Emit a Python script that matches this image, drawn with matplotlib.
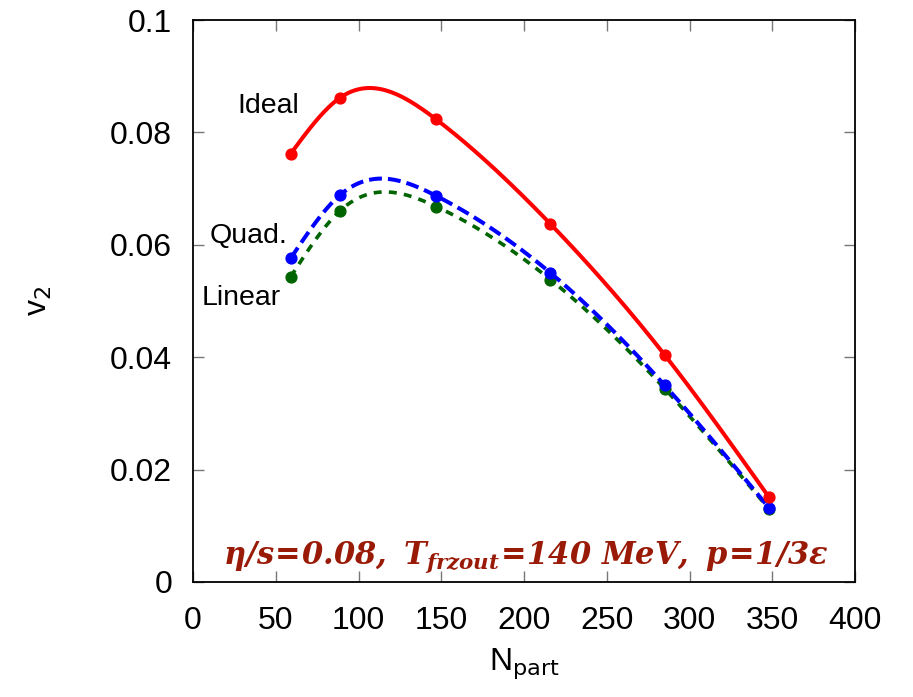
import numpy as np
import matplotlib
matplotlib.use("Agg")
import matplotlib.pyplot as plt

# data
npart = [59, 89, 147, 216, 285, 348]
v2_ideal = [0.0762, 0.0862, 0.0823, 0.0637, 0.0404, 0.0151]
v2_quad = [0.0576, 0.0689, 0.0687, 0.0550, 0.0350, 0.0132]
v2_linear = [0.0543, 0.0661, 0.0668, 0.0538, 0.0344, 0.0130]

xticks = [0, 50, 100, 150, 200, 250, 300, 350, 400]
yticks = [0, 0.02, 0.04, 0.06, 0.08, 0.1]
ytick_labels = ["0", "0.02", "0.04", "0.06", "0.08", "0.1"]


def natural_spline(x, y, n=300):
    # natural cubic spline through the points (like gnuplot smooth csplines)
    x = np.asarray(x, float)
    y = np.asarray(y, float)
    k = len(x)
    h = np.diff(x)
    A = np.zeros((k, k))
    b = np.zeros(k)
    A[0, 0] = A[-1, -1] = 1
    for i in range(1, k - 1):
        A[i, i - 1] = h[i - 1]
        A[i, i] = 2 * (h[i - 1] + h[i])
        A[i, i + 1] = h[i]
        b[i] = 6 * ((y[i + 1] - y[i]) / h[i] - (y[i] - y[i - 1]) / h[i - 1])
    M = np.linalg.solve(A, b)
    xs = np.linspace(x[0], x[-1], n)
    idx = np.clip(np.searchsorted(x, xs) - 1, 0, k - 2)
    x0, x1 = x[idx], x[idx + 1]
    hh = x1 - x0
    t0, t1 = x1 - xs, xs - x0
    ys = (M[idx] * t0**3 + M[idx + 1] * t1**3) / (6 * hh) \
        + (y[idx] / hh - M[idx] * hh / 6) * t0 \
        + (y[idx + 1] / hh - M[idx + 1] * hh / 6) * t1
    return xs, ys


plt.rcParams['font.family'] = ['Liberation Sans', 'DejaVu Sans']
plt.rcParams['mathtext.fontset'] = 'custom'
plt.rcParams['mathtext.it'] = 'DejaVu Serif:italic:bold'
plt.rcParams['mathtext.rm'] = 'DejaVu Serif:italic:bold'
plt.rcParams['mathtext.bf'] = 'DejaVu Serif:italic:bold'

fig = plt.figure(figsize=(9.13, 6.97), dpi=100)
ax = fig.add_axes([0.2114, 0.165, 0.7251, 0.8063])

red = "#ff0000"
blue = "#0000ff"
green = "#006400"

xs, ys = natural_spline(npart, v2_linear)
ax.plot(xs, ys, color=green, lw=2.6, dashes=(2.2, 2.0))
ax.plot(npart, v2_linear, "o", color=green, ms=7.8)

xs, ys = natural_spline(npart, v2_quad)
ax.plot(xs, ys, color=blue, lw=2.9, dashes=(3.2, 1.5))
ax.plot(npart, v2_quad, "o", color=blue, ms=7.8)

xs, ys = natural_spline(npart, v2_ideal)
ax.plot(xs, ys, color=red, lw=2.9)
ax.plot(npart, v2_ideal, "o", color=red, ms=7.8)

ax.set_xlim(0, 400)
ax.set_ylim(0, 0.1)
ax.set_xticks(xticks)
ax.set_yticks(yticks)
ax.set_yticklabels(ytick_labels)
ax.tick_params(direction="in", length=8, width=1, color="#777777",
               top=True, right=True, labelsize=23)
ax.tick_params(axis="x", pad=17)
ax.tick_params(axis="y", pad=15)
for s in ax.spines.values():
    s.set_linewidth(1.3)

ax.set_xlabel(r"N$_{\mathsf{part}}$", fontsize=23, labelpad=8)
ax.set_ylabel(r"v$_{\mathsf{2}}$", fontsize=23, labelpad=40)

ax.text(26.7, 0.0835, "Ideal", fontsize=20.5)
ax.text(10.3, 0.0603, "Quad.", fontsize=20.5)
ax.text(5.5, 0.0493, "Linear", fontsize=20.5)

ax.text(201, 0.0032,
        r"$\eta/s\!=\!0.08,\ T_{frzout}\!=\!140\ MeV,\ p\!=\!1/3\varepsilon$",
        fontsize=22, color="#9a1a08", ha="center")

fig.savefig("out.png", dpi=100)
